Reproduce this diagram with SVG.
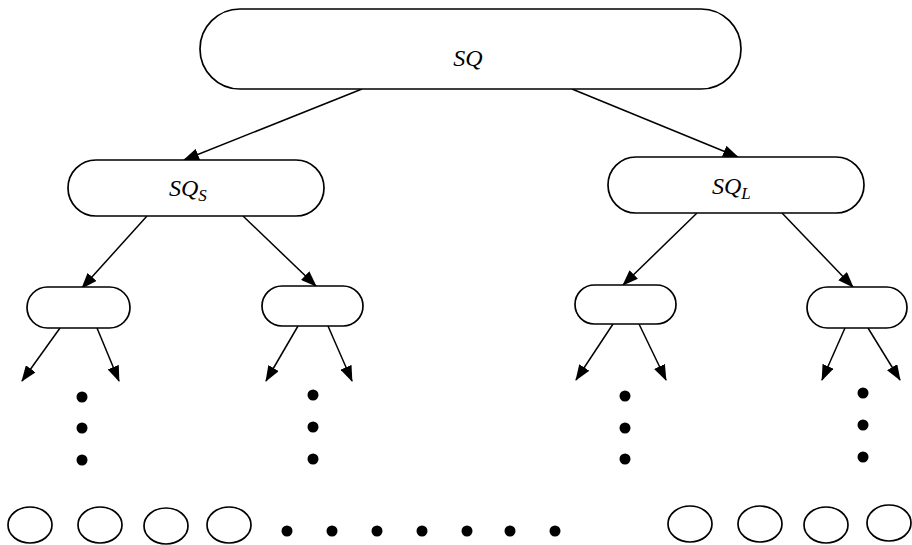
<svg xmlns="http://www.w3.org/2000/svg" width="912" height="545" viewBox="0 0 912 545">
<style>
.n{fill:#fff;stroke:#000;stroke-width:1.7}
.c{stroke:#000;stroke-width:1.5;fill:none;marker-end:url(#ah)}
.t{font-family:"Liberation Serif","DejaVu Serif",serif;font-style:italic;font-size:24px;fill:#000}
.s{font-size:17px}
.d{fill:#000}
</style>
<defs>
<marker id="ah" viewBox="0 0 16 12" refX="15" refY="6" markerWidth="16" markerHeight="12" markerUnits="userSpaceOnUse" orient="auto">
<path d="M0,0 L16,6 L0,12 Z" fill="#000"/>
</marker>
</defs>
<rect width="912" height="545" fill="#fff"/>
<g id="connectors">
<line class="c" x1="362" y1="89" x2="184" y2="160"/>
<line class="c" x1="572" y1="89" x2="738" y2="157"/>
<line class="c" x1="147" y1="216" x2="82" y2="288"/>
<line class="c" x1="243" y1="216" x2="316" y2="286"/>
<line class="c" x1="697" y1="213" x2="623" y2="285"/>
<line class="c" x1="782" y1="213" x2="853" y2="287"/>
<line class="c" x1="60" y1="328" x2="22" y2="381"/>
<line class="c" x1="97" y1="328" x2="119" y2="381"/>
<line class="c" x1="298" y1="326" x2="266" y2="381"/>
<line class="c" x1="328" y1="326" x2="352" y2="381"/>
<line class="c" x1="613" y1="324" x2="576" y2="380"/>
<line class="c" x1="639" y1="324" x2="666" y2="380"/>
<line class="c" x1="845" y1="328" x2="822" y2="380"/>
<line class="c" x1="868" y1="328" x2="900" y2="380"/>
</g>
<g id="SQ">
<rect class="n" x="200" y="9" width="541" height="80" rx="40" ry="40"/>
<text class="t" x="468" y="66" text-anchor="middle">SQ</text>
</g>
<g id="SQs">
<rect class="n" x="68" y="160" width="256" height="56" rx="28" ry="28"/>
<text class="t" x="169" y="196">SQ<tspan class="s" dy="5">S</tspan></text>
</g>
<g id="SQL">
<rect class="n" x="608" y="157" width="256" height="56" rx="28" ry="28"/>
<text class="t" x="712" y="194">SQ<tspan class="s" dy="5">L</tspan></text>
</g>
<g id="n1"><rect class="n" x="27" y="287" width="103" height="41" rx="20.5" ry="20.5"/></g>
<g id="n2"><rect class="n" x="262" y="286" width="101" height="40" rx="20" ry="20"/></g>
<g id="n3"><rect class="n" x="575" y="285" width="101" height="39" rx="19.5" ry="19.5"/></g>
<g id="n4"><rect class="n" x="807" y="287" width="100" height="41" rx="20.5" ry="20.5"/></g>
<g id="dots">
<circle class="d" cx="82" cy="397" r="5.5"/><circle class="d" cx="82" cy="428" r="5.5"/><circle class="d" cx="82" cy="460" r="5.5"/>
<circle class="d" cx="313" cy="395" r="5.5"/><circle class="d" cx="313" cy="427" r="5.5"/><circle class="d" cx="313" cy="459" r="5.5"/>
<circle class="d" cx="625" cy="396" r="5.5"/><circle class="d" cx="625" cy="428" r="5.5"/><circle class="d" cx="625" cy="459" r="5.5"/>
<circle class="d" cx="863" cy="393" r="5.5"/><circle class="d" cx="863" cy="425" r="5.5"/><circle class="d" cx="863" cy="457" r="5.5"/>
<circle class="d" cx="287" cy="531" r="5.5"/><circle class="d" cx="332" cy="531" r="5.5"/><circle class="d" cx="377" cy="531" r="5.5"/>
<circle class="d" cx="422" cy="531" r="5.5"/><circle class="d" cx="467" cy="531" r="5.5"/><circle class="d" cx="510" cy="531" r="5.5"/>
<circle class="d" cx="555" cy="531" r="5.5"/>
</g>
<g id="leaves">
<ellipse class="n" cx="30" cy="525" rx="22" ry="18"/>
<ellipse class="n" cx="100" cy="525" rx="22" ry="18"/>
<ellipse class="n" cx="166" cy="526" rx="22" ry="18"/>
<ellipse class="n" cx="229" cy="525" rx="22" ry="18"/>
<ellipse class="n" cx="690" cy="524" rx="22" ry="18"/>
<ellipse class="n" cx="760" cy="524" rx="22" ry="18"/>
<ellipse class="n" cx="826" cy="525" rx="22" ry="18"/>
<ellipse class="n" cx="889" cy="523" rx="22" ry="18"/>
</g>
</svg>
